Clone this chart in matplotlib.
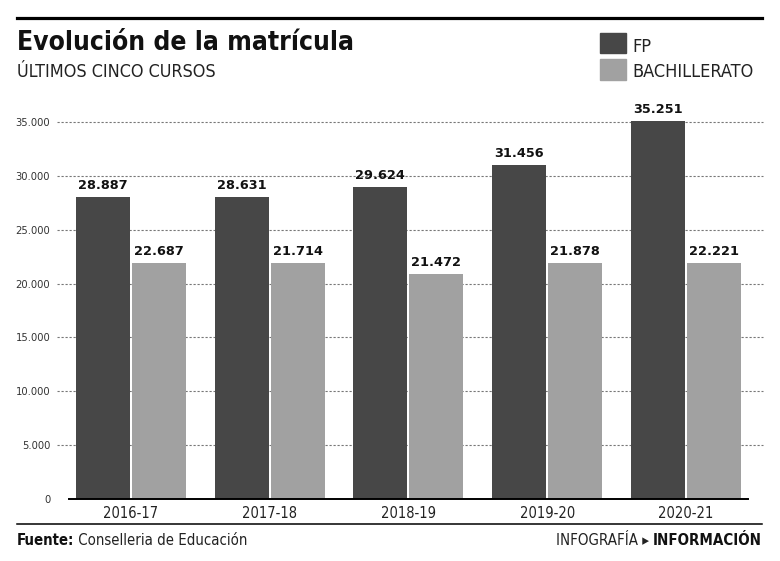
import matplotlib
matplotlib.use("Agg")
import matplotlib.pyplot as plt
from matplotlib.lines import Line2D
from matplotlib.patches import Rectangle
from matplotlib import font_manager
from matplotlib.transforms import blended_transform_factory
import numpy as np

# ---------------- data ----------------
categories = ["2016-17", "2017-18", "2018-19", "2019-20", "2020-21"]
series_names = ["FP", "BACHILLERATO"]
# bar heights as drawn in the graphic
fp_values = [28050, 28050, 29000, 31000, 35100]
bach_values = [21950, 21950, 20900, 21950, 21950]
# printed value labels
fp_labels = ["28.887", "28.631", "29.624", "31.456", "35.251"]
bach_labels = ["22.687", "21.714", "21.472", "21.878", "22.221"]
y_ticks = [0, 5000, 10000, 15000, 20000, 25000, 30000, 35000]
y_tick_labels = ["0", "5.000", "10.000", "15.000", "20.000", "25.000", "30.000", "35.000"]

title = "Evolución de la matrícula"
subtitle = "ÚLTIMOS CINCO CURSOS"
source_bold = "Fuente:"
source_text = " Conselleria de Educación"
credit_light = "INFOGRAFÍA ▸ "
credit_bold = "INFORMACIÓN"

FP_COLOR = "#474747"
BACH_COLOR = "#a1a1a1"

# ---------------- fonts ----------------
has_cond = any(f.name == "DejaVu Sans" and f.stretch == "condensed"
               for f in font_manager.fontManager.ttflist)
STRETCH = "condensed" if has_cond else "normal"
FAM = ["DejaVu Sans"]

W, H = 780, 561
fig = plt.figure(figsize=(W / 100, H / 100), dpi=100)
fig.patch.set_facecolor("white")


def fx(x):
    return x / W


def fy(y):
    return 1 - y / H


# axes: x from 69 to 748 px, y zero at 499 px, 35000 at 122 px
y_top_val = 38000
px_per_val = (499 - 122) / 35000
ax_h_px = y_top_val * px_per_val
ax = fig.add_axes([fx(69), fy(499), (748 - 69) / W, ax_h_px / H])
ax.set_xlim(-0.447, 4.448)
ax.set_ylim(0, y_top_val)

x = np.arange(len(categories))
bw = 0.389
off = 0.2019
b1 = ax.bar(x - off, fp_values, width=bw, color=FP_COLOR, zorder=3, linewidth=0)
b2 = ax.bar(x + off, bach_values, width=bw, color=BACH_COLOR, zorder=3, linewidth=0)

# dashed gridlines extending past the axes
tr = blended_transform_factory(ax.transAxes, ax.transData)
x0 = (57 - 69) / (748 - 69)
x1 = (763 - 69) / (748 - 69)
for v in y_ticks[1:]:
    ax.plot([x0, x1], [v, v], transform=tr, color="#777777", lw=0.8,
            dashes=(2.0, 1.6), zorder=1, clip_on=False)

ax.set_yticks(y_ticks)
ax.set_yticklabels(y_tick_labels)
ax.set_xticks(x)
ax.set_xticklabels(categories)
ax.tick_params(axis="y", length=0, pad=13.5, labelsize=8, labelcolor="#333333")
ax.tick_params(axis="x", length=0, pad=5, labelsize=10.5, labelcolor="#222222")
for lab in ax.get_yticklabels() + ax.get_xticklabels():
    lab.set_fontfamily(FAM)
    lab.set_fontstretch(STRETCH)
for s in ["top", "right", "left"]:
    ax.spines[s].set_visible(False)
ax.spines["bottom"].set_color("black")
ax.spines["bottom"].set_linewidth(1.4)
ax.spines["bottom"].set_zorder(4)
ax.set_facecolor("none")

# value labels
for rects, labels in ((b1, fp_labels), (b2, bach_labels)):
    for r, lab in zip(rects, labels):
        ax.annotate(lab, (r.get_x() + r.get_width() / 2, r.get_height()),
                    xytext=(0, 5.5), textcoords="offset points",
                    ha="center", va="baseline", fontsize=9.3, fontweight="bold",
                    color="#111111", family=FAM, zorder=5)

# ---------------- header / footer ----------------
fig.canvas.draw()
rend = fig.canvas.get_renderer()


def ptext(x, y, s, target_w=None, size=10, weight="normal", color="#111111", ha="left"):
    t = fig.text(fx(x), fy(y), s, ha=ha, va="baseline", fontsize=size,
                 fontweight=weight, color=color, family=FAM, fontstretch=STRETCH)
    if target_w is not None:
        bb = t.get_window_extent(rend)
        t.set_fontsize(size * target_w / bb.width)
    return t


def twidth(t):
    return t.get_window_extent(rend).width


# top rule
fig.add_artist(Line2D([fx(17), fx(762)], [fy(17.5), fy(17.5)], color="black", lw=2.3))
# title and subtitle
ptext(17, 50, title, target_w=338, size=18, weight="bold", color="#111111")
ptext(17, 77, subtitle, target_w=200, size=10, color="#222222")

# legend
fig.add_artist(Rectangle((fx(600), fy(53)), 26 / W, 20 / H, color=FP_COLOR,
                         transform=fig.transFigure))
fig.add_artist(Rectangle((fx(600), fy(80)), 26 / W, 21 / H, color=BACH_COLOR,
                         transform=fig.transFigure))
t_bach = ptext(632, 77, series_names[1], target_w=121, size=11, color="#222222")
ptext(632, 52, series_names[0], size=t_bach.get_fontsize(), color="#222222")

# bottom rule
fig.add_artist(Line2D([fx(17), fx(762)], [fy(524), fy(524)], color="black", lw=1.1))

# source
t1 = ptext(17, 545, source_bold, size=10, weight="bold", color="#111111")
t2 = ptext(17 + twidth(t1), 545, source_text, size=10, color="#222222")
total = twidth(t1) + twidth(t2)
scale = 230 / total
t1.set_fontsize(10 * scale)
t2.set_fontsize(10 * scale)
t2.set_x(fx(17 + twidth(t1)))

# credit (right aligned at 762)
c2 = ptext(762, 545, credit_bold, size=10, weight="bold", color="#111111", ha="right")
c1 = ptext(762 - twidth(c2), 545, credit_light, size=10, color="#222222", ha="right")
tot = twidth(c1) + twidth(c2)
sc = 206 / tot
c1.set_fontsize(10 * sc)
c2.set_fontsize(10 * sc)
c1.set_x(fx(762 - twidth(c2)))

fig.savefig("out.png", dpi=100, facecolor="white")
